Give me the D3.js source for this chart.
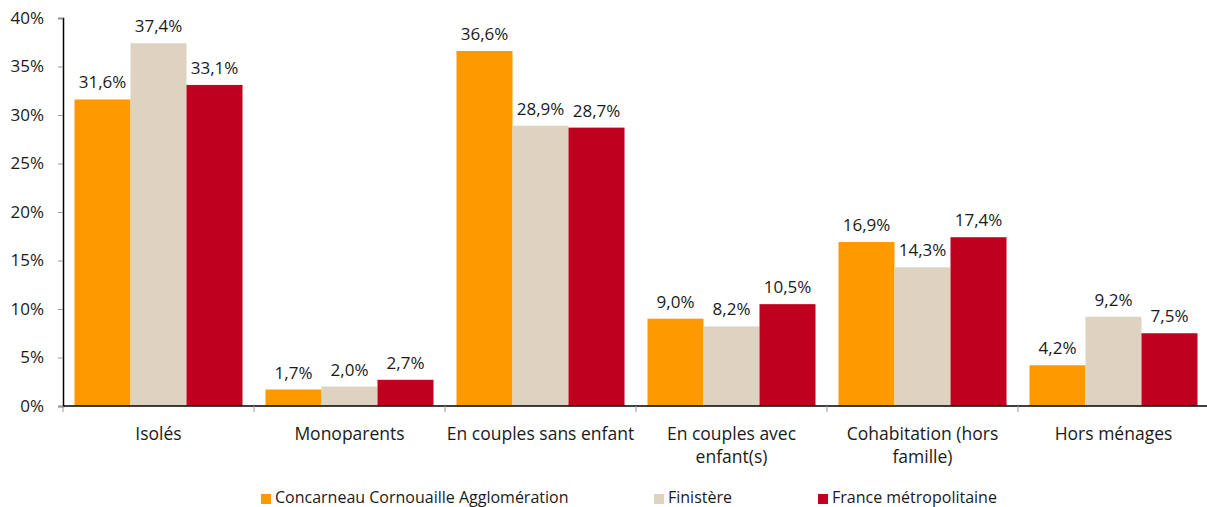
<!DOCTYPE html>
<html>
<head>
<meta charset="utf-8">
<script src="https://cdn.jsdelivr.net/npm/d3@7/dist/d3.min.js"></script>
<style>
  body { margin: 0; background: #fff; }
  svg text { font-family: "Open Sans", Lato, sans-serif; fill: #1a1a1a; }
</style>
</head>
<body>
<svg id="chart" width="1207" height="507"></svg>
<script>
// data
const categories = [
  ["Isolés"],
  ["Monoparents"],
  ["En couples sans enfant"],
  ["En couples avec", "enfant(s)"],
  ["Cohabitation (hors", "famille)"],
  ["Hors ménages"]
];
const seriesNames = ["Concarneau Cornouaille Agglomération", "Finistère", "France métropolitaine"];
const concarneau = [31.6, 1.7, 36.6, 9.0, 16.9, 4.2];
const finistere = [37.4, 2.0, 28.9, 8.2, 14.3, 9.2];
const france = [33.1, 2.7, 28.7, 10.5, 17.4, 7.5];
const colors = ["#FF9900", "#DDD3C0", "#C0001F"];
const yTicks = [0, 5, 10, 15, 20, 25, 30, 35, 40];

const series = [concarneau, finistere, france];

var svg = d3.select("#chart");

const plotLeft = 63, plotRight = 1209, plotTop = 18, plotBottom = 406;

const x0 = d3.scaleBand()
  .domain(d3.range(categories.length))
  .range([plotLeft, plotRight])
  .padding(0);

const x1 = d3.scaleBand()
  .domain(d3.range(series.length))
  .range([11.5, x0.bandwidth() - 11.5])
  .padding(0);

const y = d3.scaleLinear().domain([0, 40]).range([plotBottom, plotTop]);

const fmt = (v) => v.toFixed(1).replace(".", ",") + "%";

// bars
svg.append("g")
  .selectAll("g")
  .data(categories)
  .enter()
  .append("g")
  .attr("transform", (d, i) => `translate(${x0(i)},0)`)
  .each(function (c, i) {
    var g = d3.select(this);
    series.forEach((s, j) => {
      g.append("rect")
        .attr("x", x1(j))
        .attr("y", y(s[i]))
        .attr("width", x1.bandwidth())
        .attr("height", y(0) - y(s[i]))
        .attr("fill", colors[j]);
      g.append("text")
        .attr("x", x1(j) + x1.bandwidth() / 2)
        .attr("y", y(s[i]) - 11)
        .attr("text-anchor", "middle")
        .style("font-size", "17px")
        .text(fmt(s[i]));
    });
  });

// y axis
const yAxis = svg.append("g")
  .attr("transform", `translate(${plotLeft},0)`)
  .call(d3.axisLeft(y).tickValues(yTicks).tickSize(5).tickPadding(14).tickFormat((d) => d + "%"));
yAxis.select(".domain").attr("stroke", "#000").attr("stroke-width", 1.5);
yAxis.selectAll(".tick line").attr("stroke", "#999");
yAxis.selectAll(".tick text").style("font-size", "17px").attr("fill", "#1a1a1a");

// x axis baseline + separators
svg.append("line")
  .attr("x1", plotLeft).attr("x2", plotRight)
  .attr("y1", plotBottom).attr("y2", plotBottom)
  .attr("stroke", "#000").attr("stroke-width", 1.5);

svg.append("g")
  .selectAll("line")
  .data(d3.range(categories.length + 1))
  .enter()
  .append("line")
  .attr("x1", (d) => plotLeft + d * x0.bandwidth())
  .attr("x2", (d) => plotLeft + d * x0.bandwidth())
  .attr("y1", plotBottom)
  .attr("y2", plotBottom + 6)
  .attr("stroke", "#999");

// category labels
svg.append("g")
  .selectAll("text")
  .data(categories)
  .enter()
  .append("text")
  .attr("x", (d, i) => x0(i) + x0.bandwidth() / 2)
  .attr("y", 440)
  .attr("text-anchor", "middle")
  .style("font-size", "17.5px")
  .each(function (lines) {
    var t = d3.select(this);
    lines.forEach((l, k) => {
      t.append("tspan")
        .attr("x", t.attr("x"))
        .attr("dy", k === 0 ? 0 : 23)
        .text(l);
    });
  });

// legend
const legendX = [261, 654, 818];
const legend = svg.append("g")
  .selectAll("g")
  .data(seriesNames)
  .enter()
  .append("g")
  .attr("transform", (d, i) => `translate(${legendX[i]},493)`);
legend.append("rect")
  .attr("width", 10).attr("height", 10)
  .attr("y", 1)
  .attr("fill", (d, i) => colors[i]);
legend.append("text")
  .attr("x", 14)
  .attr("y", 10)
  .style("font-size", "16px")
  .text((d) => d);
</script>
</body>
</html>
